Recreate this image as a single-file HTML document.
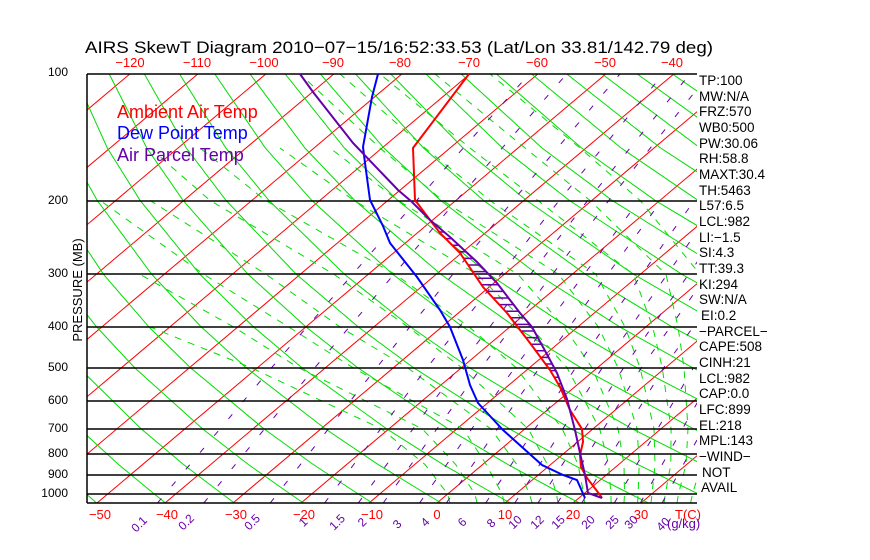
<!DOCTYPE html>
<html><head><meta charset="utf-8"><style>
body{margin:0;background:#fff;}
svg{display:block;font-family:"Liberation Sans",sans-serif;}
</style></head><body>
<svg width="870" height="560" xmlns="http://www.w3.org/2000/svg">
<defs><clipPath id="c"><rect x="87" y="74" width="610" height="429"/></clipPath></defs>
<g clip-path="url(#c)" fill="none">
<g stroke="#f00" stroke-width="1">
<path d="M-447,503L61.8,74M-379,503L129.8,74M-311,503L197.8,74M-243,503L265.8,74M-175,503L333.8,74M-107,503L401.8,74M-39,503L469.8,74M29,503L537.8,74M97,503L605.8,74M165,503L673.8,74M233,503L741.8,74M301,503L809.8,74M369,503L877.8,74M437,503L945.8,74M505,503L1013.8,74M573,503L1081.8,74M641,503L1149.8,74"/>
</g>
<g stroke="#0d0" stroke-width="1">
<path d="M96.6,503L86.3,494L53.5,464.4L18.4,428.9L-32.8,367.6"/>
<path d="M165.6,503L154.3,494L118.4,464.4L79.8,428.9L23,367.6L-8.1,326.9"/>
<path d="M234.5,503L222.3,494L183.3,464.4L141.2,428.9L78.7,367.6L44.3,326.9L7.3,274.4"/>
<path d="M303.5,503L290.3,494L248.2,464.4L202.6,428.9L134.5,367.6L96.6,326.9L55.5,274.4L11.4,200.4"/>
<path d="M372.4,503L358.3,494L313.1,464.4L264,428.9L190.3,367.6L148.9,326.9L103.6,274.4L54.3,200.4L28.2,148L3.6,74"/>
<path d="M441.4,503L426.3,494L378,464.4L325.4,428.9L246,367.6L201.2,326.9L151.8,274.4L97.2,200.4L67.7,148L38.8,74"/>
<path d="M510.3,503L494.3,494L442.9,464.4L386.8,428.9L301.8,367.6L253.5,326.9L200,274.4L140.1,200.4L107.3,148L74,74"/>
<path d="M579.3,503L562.3,494L507.8,464.4L448.2,428.9L357.6,367.6L305.9,326.9L248.2,274.4L183.1,200.4L146.8,148L109.2,74"/>
<path d="M648.3,503L630.3,494L572.7,464.4L509.6,428.9L413.4,367.6L358.2,326.9L296.4,274.4L226,200.4L186.3,148L144.4,74"/>
<path d="M717.2,503L698.3,494L637.6,464.4L571,428.9L469.2,367.6L410.5,326.9L344.6,274.4L268.9,200.4L225.8,148L179.6,74"/>
<path d="M786.2,503L766.3,494L702.5,464.4L632.4,428.9L525,367.6L462.8,326.9L392.8,274.4L311.8,200.4L265.3,148L214.8,74"/>
<path d="M855.1,503L834.3,494L767.4,464.4L693.8,428.9L580.7,367.6L515.2,326.9L441,274.4L354.7,200.4L304.9,148L250,74"/>
<path d="M924.1,503L902.3,494L832.3,464.4L755.2,428.9L636.5,367.6L567.5,326.9L489.2,274.4L397.7,200.4L344.4,148L285.2,74"/>
<path d="M970.3,494L897.2,464.4L816.6,428.9L692.3,367.6L619.8,326.9L537.4,274.4L440.6,200.4L383.9,148L320.4,74"/>
<path d="M962.1,464.4L878,428.9L748.1,367.6L672.1,326.9L585.6,274.4L483.5,200.4L423.5,148L355.6,74"/>
<path d="M939.4,428.9L803.8,367.6L724.5,326.9L633.8,274.4L526.4,200.4L463,148L390.8,74"/>
<path d="M1000.8,428.9L859.6,367.6L776.8,326.9L682,274.4L569.3,200.4L502.5,148L426,74"/>
<path d="M915.4,367.6L829.1,326.9L730.2,274.4L612.2,200.4L542,148L461.2,74"/>
<path d="M971.2,367.6L881.4,326.9L778.4,274.4L655.2,200.4L581.6,148L496.4,74"/>
<path d="M1027,367.6L933.8,326.9L826.6,274.4L698.1,200.4L621.1,148L531.6,74"/>
<path d="M986.1,326.9L874.8,274.4L741,200.4L660.6,148L566.8,74"/>
<path d="M923,274.4L783.9,200.4L700.2,148L602,74"/>
<path d="M971.2,274.4L826.8,200.4L739.7,148L637.2,74"/>
<path d="M869.7,200.4L779.2,148L672.4,74"/>
<path d="M912.6,200.4L818.8,148L707.6,74"/>
</g>
<g stroke="#0d0" stroke-width="1" stroke-dasharray="7 7">
<path d="M449.9,503L447.7,494L424.9,464.4L381.5,428.9L250.8,367.6L150,326.9"/>
<path d="M477.1,503L474.9,494L455.6,464.4L422.3,428.9L298.4,367.6L233.5,326.9L140,274.4"/>
<path d="M504.3,503L502.1,494L486.2,464.4L463.1,428.9L352.8,367.6L288.6,326.9L203.9,274.4L100,200.4"/>
<path d="M532.2,503L529.3,494L516.8,464.4L490.9,428.9L407.2,367.6L339.9,326.9L266.1,274.4L150,200.4"/>
<path d="M558,503L556.5,494L547.4,464.4L528.3,428.9L461.6,367.6L407.9,326.9L334.1,274.4L210,200.4L150,148"/>
<path d="M584.6,503L583.7,494L578,464.4L562.3,428.9L516,367.6L469.1,326.9L395.3,274.4L265.5,200.4L200,148"/>
<path d="M611.1,503L610.9,494L608.6,464.4L599.7,428.9L567,367.6L530.3,326.9L477.1,274.4L353.9,200.4L280,148"/>
<path d="M637.6,503L638.1,494L639.2,464.4L637.1,428.9L618,367.6L598.3,326.9L558.7,274.4L442.5,200.4L380,148L300,74"/>
<path d="M664.1,503L665.3,494L670.8,464.4L671.1,428.9L662.2,367.6L652.7,326.9L633.5,274.4L537.7,200.4L470,148L380,74"/>
<path d="M690.6,503L692.5,494L701.4,464.4L705.1,428.9L706.4,367.6L704.5,326.9L700,274.4L640,200.4L580,148L490,74"/>
<path d="M677,503L678.5,494L686,464.4L688,428.9L684,367.6L678,326.9L666,274.4L590,200.4L525,148L435,74"/>
<path d="M651,503L652,494L655,464.4L654,428.9L640,367.6L625,326.9L596,274.4L490,200.4L425,148L340,74"/>
<path d="M624,503L624.5,494L624,464.4L618,428.9L592,367.6L564,326.9L518,274.4L398,200.4L330,148"/>
</g>
<g stroke="#60a" stroke-width="1" stroke-dasharray="6 16">
<path d="M157.5,503L271.7,367.6L416.7,200.4L529.2,74"/>
<path d="M203.8,503L314.9,367.6L456.6,200.4L566.6,74"/>
<path d="M270.2,503L376.6,367.6L513.2,200.4L619.9,74"/>
<path d="M324.6,503L427.1,367.6L559.3,200.4L663.1,74"/>
<path d="M358.3,503L458.3,367.6L587.8,200.4L689.8,74"/>
<path d="M383.2,503L481.3,367.6L608.8,200.4L709,74"/>
<path d="M419.6,503L514.8,367.6L639.2,200.4"/>
<path d="M446.4,503L539.5,367.6L661.7,200.4"/>
<path d="M485.7,503L575.7,367.6L694.4,200.4"/>
<path d="M514.8,503L602.4,367.6L718.6,200.4"/>
<path d="M538,503L623.7,367.6L740,200.4"/>
<path d="M557.5,503L641.5,367.6L760,200.4"/>
<path d="M581.8,503L663.8,367.6L785,200.4"/>
<path d="M614.3,503L693.5,367.6"/>
<path d="M640.3,503L717.2,367.6"/>
<path d="M662.1,503L737,367.6"/>
<path d="M697.5,503L769,367.6"/>
</g>
</g>
<g stroke="#000" stroke-width="1.5">
<line x1="87" y1="74" x2="697" y2="74"/>
<line x1="87" y1="201" x2="697" y2="201"/>
<line x1="87" y1="274" x2="697" y2="274"/>
<line x1="87" y1="327" x2="697" y2="327"/>
<line x1="87" y1="368" x2="697" y2="368"/>
<line x1="87" y1="401" x2="697" y2="401"/>
<line x1="87" y1="429" x2="697" y2="429"/>
<line x1="87" y1="454" x2="697" y2="454"/>
<line x1="87" y1="475" x2="697" y2="475"/>
<line x1="87" y1="494" x2="697" y2="494"/>
<line x1="87" y1="503" x2="697" y2="503"/>
<line x1="87" y1="74" x2="87" y2="503"/>
</g>
<g fill="none">
<path stroke="#60a" stroke-width="1.5" d="M439.2,232H444.1M445.6,238.6H451.7M452.2,245.2H458.9M458.8,251.8H466M463.7,258.4H473.2M468.1,265H479.9M472.6,271.6H486.2M477,278.2H492.5M481.5,284.8H498.4M487.1,291.4H503.4M493.2,298H508.5M499.2,304.6H513.6M505.3,311.2H518.6M510.7,317.8H524.1M515.8,324.4H529.9M520.8,331H534.2M525.9,337.6H537.8M530.9,344.2H541.5M535.8,350.8H545M540.7,357.4H548.6M545.6,364H552.2M550.4,370.6H555.8M554.2,377.2H558.6M558.1,383.8H561.2M561.5,390.4H563.7M564.3,397H566.2"/>
<path stroke="#00f" stroke-width="2" d="M378,74L372,97L363,147L365,163L370,200L383,226L390,243L417,277L440,310L450,327L463,360L470,385L478,403L503,430L542,465L563,475L577,480L585,498"/>
<path stroke="#f00" stroke-width="2" d="M469,74L413,148L415,200L430,220L440,233L460,253L483,287L507,313L530,343L550,370L560,387L570,410L582,429L583,442L580,455L581,467L587,478L600,495L602,498"/>
<path stroke="#60a" stroke-width="2" d="M300,74L313,92L353,143L398,190L412,202L430,220L450,237L477,262L497,283L520,313L532,327L543,347L557,373L567,399L575,430L580,453L585,475L588,493L602,498"/>
</g>
<text x="85" y="53" font-size="17" textLength="628" lengthAdjust="spacingAndGlyphs">AIRS SkewT Diagram 2010−07−15/16:52:33.53 (Lat/Lon 33.81/142.79 deg)</text>
<g font-size="13" fill="#f00" text-anchor="middle">
<text x="130" y="67">−120</text><text x="197" y="67">−110</text><text x="264" y="67">−100</text><text x="333" y="67">−90</text><text x="400" y="67">−80</text><text x="469" y="67">−70</text><text x="537" y="67">−60</text><text x="605" y="67">−50</text><text x="672" y="67">−40</text>
<text x="100" y="519">−50</text><text x="167" y="519">−40</text><text x="236" y="519">−30</text><text x="304" y="519">−20</text><text x="372" y="519">−10</text><text x="437" y="519">0</text><text x="505" y="519">10</text><text x="573" y="519">20</text><text x="641" y="519">30</text><text x="688" y="519">T(C)</text>
</g>
<g font-size="12" fill="#000" text-anchor="end">
<text x="68" y="76">100</text><text x="68" y="204">200</text><text x="68" y="277">300</text><text x="68" y="330">400</text><text x="68" y="371">500</text><text x="68" y="404">600</text><text x="68" y="432">700</text><text x="68" y="457">800</text><text x="68" y="478">900</text><text x="68" y="497">1000</text>
</g>
<text transform="translate(82,290) rotate(-90)" font-size="13" text-anchor="middle">PRESSURE (MB)</text>
<text x="117" y="118" font-size="18" fill="#f00">Ambient Air Temp</text>
<text x="117" y="139" font-size="18" fill="#00f">Dew Point Temp</text>
<text x="117" y="161" font-size="18" fill="#60a">Air Parcel Temp</text>
<g font-size="13.5" fill="#000">
<text x="699" y="85">TP:100</text><text x="699" y="101">MW:N/A</text><text x="699" y="116">FRZ:570</text><text x="699" y="132">WB0:500</text><text x="699" y="148">PW:30.06</text><text x="699" y="163">RH:58.8</text><text x="699" y="179">MAXT:30.4</text><text x="699" y="195">TH:5463</text><text x="699" y="210">L57:6.5</text><text x="699" y="226">LCL:982</text><text x="699" y="242">LI:−1.5</text><text x="699" y="257">SI:4.3</text><text x="699" y="273">TT:39.3</text><text x="699" y="289">KI:294</text><text x="699" y="304">SW:N/A</text><text x="701" y="320">EI:0.2</text><text x="699" y="336">−PARCEL−</text><text x="699" y="351">CAPE:508</text><text x="699" y="367">CINH:21</text><text x="699" y="383">LCL:982</text><text x="699" y="398">CAP:0.0</text><text x="699" y="414">LFC:899</text><text x="699" y="430">EL:218</text><text x="699" y="445">MPL:143</text><text x="699" y="461">−WIND−</text><text x="702" y="477">NOT</text><text x="701" y="492">AVAIL</text>
</g>
<g font-size="12" fill="#60a" text-anchor="middle">
<text transform="translate(142,527) rotate(-45)">0.1</text>
<text transform="translate(189,525) rotate(-45)">0.2</text>
<text transform="translate(255,525) rotate(-45)">0.5</text>
<text transform="translate(306,525) rotate(-45)">1</text>
<text transform="translate(340,525) rotate(-45)">1.5</text>
<text transform="translate(365,525) rotate(-45)">2</text>
<text transform="translate(400,527) rotate(-45)">3</text>
<text transform="translate(428,525) rotate(-45)">4</text>
<text transform="translate(465,525) rotate(-45)">6</text>
<text transform="translate(494,526) rotate(-45)">8</text>
<text transform="translate(518,525) rotate(-45)">10</text>
<text transform="translate(540,525) rotate(-45)">12</text>
<text transform="translate(561,525) rotate(-45)">15</text>
<text transform="translate(591,525) rotate(-45)">20</text>
<text transform="translate(615,525) rotate(-45)">25</text>
<text transform="translate(634,525) rotate(-45)">30</text>
<text transform="translate(666,527) rotate(-45)">40</text>
</g>
<text x="667" y="528" font-size="13" fill="#60a">(g/kg)</text>
</svg>
</body></html>
